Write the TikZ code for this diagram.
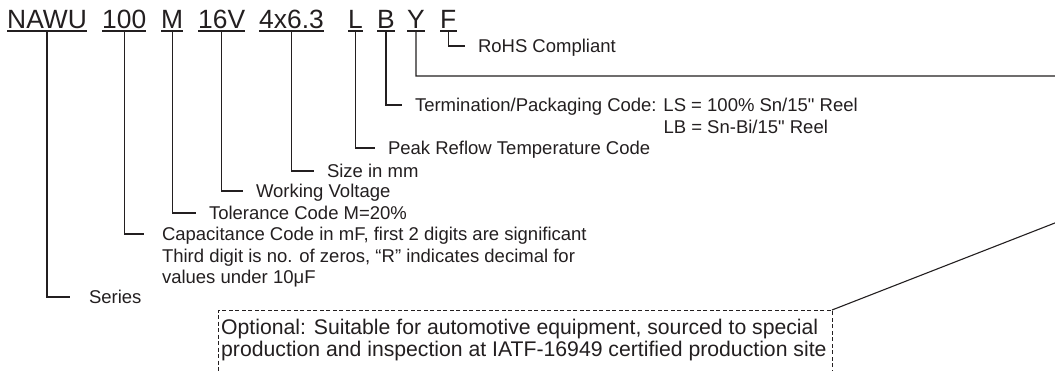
\documentclass[tikz,border=0pt]{standalone}
\usepackage{fontspec}
\setmainfont{Liberation Sans}
\newfontfamily\partfont{Liberation Sans}
\definecolor{inkgray}{HTML}{231F20}

\begin{document}
\begin{tikzpicture}[x=1pt, y=-1pt,
  code/.style={font=\partfont\fontsize{26.4}{30}\selectfont, text=inkgray, inner sep=0pt, anchor=base west},
  lbl/.style={font=\partfont\fontsize{18.5}{22}\selectfont, text=inkgray, inner sep=0pt, outer xsep=13pt,
    text height=13.2pt, text depth=0pt, anchor=west},
  note/.style={font=\partfont\fontsize{21.2}{25}\selectfont, text=inkgray, inner sep=0pt,
    text height=15.2pt, text depth=0pt, anchor=west},
  lead/.style={draw=inkgray, line width=1.1pt}]

  % Page
  \useasboundingbox (0,0) rectangle (1055,370);
  \fill[white] (0,0) rectangle (1055,370);

  % Part number codes
  \node[code] (seriescode) at (7,28) {NAWU};
  \node[code] (capcode) at (102,28) {100};
  \node[code] (tolcode) at (161,28) {M};
  \node[code] (voltcode) at (198,28) {16V};
  \node[code] (sizecode) at (259,28) {4x6.3};
  \node[code] (tempcode) at (348,28) {L};
  \node[code] (termcode) at (377,28) {B};
  \node[code] (autocode) at (407,28) {Y};
  \node[code] (rohscode) at (440,28) {F};

  % Underlines
  \foreach \c in {seriescode,capcode,tolcode,voltcode,sizecode,tempcode,termcode,autocode,rohscode}
    \draw[lead] ([yshift=-3pt]\c.base west) -- ([yshift=-3pt]\c.base east);

  % Descriptions
  \node[lbl] (rohslbl) at (465,46) {RoHS Compliant};
  \node[lbl] (termlbl) at (402,105) {Termination/Packaging Code: LS = 100\% Sn/15" Reel};
  \node[lbl] (termlbl2) at (402,127) {\phantom{Termination/Packaging Code: }LB = Sn-Bi/15" Reel};
  \node[lbl] (templbl) at (375,148) {Peak Reflow Temperature Code};
  \node[lbl] (sizelbl) at (314,171) {Size in mm};
  \node[lbl] (voltlbl) at (243,191) {Working Voltage};
  \node[lbl] (tollbl) at (196,213) {Tolerance Code M=20\%};
  \node[lbl, outer xsep=18pt] (caplbl) at (144,234) {Capacitance Code in mF, first 2 digits are significant};
  \node[lbl, outer xsep=18pt] (caplbl2) at (144,256) {Third digit is no. of zeros, “R” indicates decimal for};
  \node[lbl, outer xsep=18pt] (caplbl3) at (144,277) {values under 10μF};
  \node[lbl, outer xsep=19pt] (serieslbl) at (70,297) {Series};

  % Optional automotive box
  \node[draw=inkgray, line width=1pt, dash pattern=on 4pt off 2.5pt, minimum width=614pt,
    minimum height=80pt, inner sep=0pt, outer sep=0pt, anchor=north west] (optbox) at (218,310) {};
  \node[note] (opt1) at (221,327) {Optional: Suitable for automotive equipment, sourced to special};
  \node[note] (opt2) at (221,349) {production and inspection at IATF-16949 certified production site};

  % Leader lines
  \draw[lead] ([yshift=-3pt]rohscode.base) |- (rohslbl.west);
  \draw[lead] ([yshift=-3pt]termcode.base) |- (termlbl.west);
  \draw[lead] ([yshift=-3pt]tempcode.base) |- (templbl.west);
  \draw[lead] ([yshift=-3pt]sizecode.base) |- (sizelbl.west);
  \draw[lead] ([yshift=-3pt]voltcode.base) |- (voltlbl.west);
  \draw[lead] ([yshift=-3pt]tolcode.base) |- (tollbl.west);
  \draw[lead] ([yshift=-3pt]capcode.base) |- (caplbl.west);
  \draw[lead] ([yshift=-3pt]seriescode.base) |- (serieslbl.west);
  \coordinate (yturn) at (1060,76);
  \coordinate (ybend) at (1060,221);
  \draw[lead] ([yshift=-3pt]autocode.base) |- (yturn) -- (ybend) -- (optbox.north east);

\end{tikzpicture}
\end{document}
